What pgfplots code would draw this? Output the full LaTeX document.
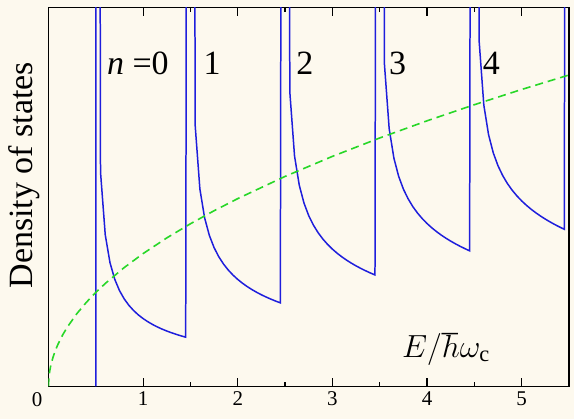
\RequirePackage{fix-cm}
\documentclass[border=0pt]{standalone}
\usepackage{pgfplots}
\pgfplotsset{compat=1.18}
\usepackage{pgfplotstable}
\usepackage{fontspec}
\setmainfont{Liberation Serif}
\usetikzlibrary{backgrounds}

\definecolor{paper}{RGB}{253,249,238}
\definecolor{dosblue}{RGB}{30,30,220}
\definecolor{dosgreen}{RGB}{40,215,40}

% Landau-quantised density of states (energy in units of hbar omega_c)
\pgfplotstableread{
E dos
0.5 0
0.5 60
0.55 4.4721
0.6 3.1623
0.65 2.5820
0.7 2.2361
0.75 2.0000
0.8 1.8257
0.85 1.6903
0.9 1.5811
0.95 1.4907
1.0 1.4142
1.05 1.3484
1.1 1.2910
1.15 1.2403
1.2 1.1952
1.25 1.1547
1.3 1.1180
1.35 1.0847
1.4 1.0541
1.45 1.0260
1.5 60
1.55 5.4480
1.6 4.1158
1.65 3.5145
1.7 3.1490
1.75 2.8944
1.8 2.7028
1.85 2.5510
1.9 2.4263
1.95 2.3212
2.0 2.2307
2.05 2.1516
2.1 2.0816
2.15 2.0188
2.2 1.9622
2.25 1.9106
2.3 1.8634
2.35 1.8199
2.4 1.7796
2.45 1.7421
2.5 60
2.55 6.1464
2.6 4.8059
2.65 4.1965
2.7 3.8232
2.75 3.5611
2.8 3.3622
2.85 3.2033
2.9 3.0718
2.95 2.9601
3.0 2.8632
3.05 2.7778
3.1 2.7018
3.15 2.6331
3.2 2.5708
3.25 2.5136
3.3 2.4610
3.35 2.4122
3.4 2.3668
3.45 2.3243
3.5 60
3.55 6.7190
3.6 5.3739
3.65 4.7599
3.7 4.3822
3.75 4.1158
3.8 3.9127
3.85 3.7497
3.9 3.6141
3.95 3.4985
4.0 3.3977
4.05 3.3085
4.1 3.2288
4.15 3.1565
4.2 3.0907
4.25 3.0300
4.3 2.9740
4.35 2.9218
4.4 2.8732
4.45 2.8275
4.5 60
4.55 7.2159
4.6 5.8678
4.65 5.2508
4.7 4.8702
4.75 4.6009
4.8 4.3949
4.85 4.2292
4.9 4.0908
4.95 3.9725
5.0 3.8691
5.05 3.7773
5.1 3.6951
5.15 3.6202
5.2 3.5520
5.25 3.4888
5.3 3.4304
5.35 3.3759
5.4 3.3250
5.45 3.2770
5.5 60
}\dostable

% Free-electron (zero-field) density of states
\pgfplotstableread{
E dos
0 0
0.005 0.196
0.01 0.277
0.02 0.392
0.03 0.480
0.05 0.619
0.075 0.759
0.1 0.876
0.15 1.073
0.2 1.239
0.3 1.517
0.4 1.752
0.5 1.959
0.6 2.146
0.8 2.478
1.0 2.770
1.25 3.097
1.5 3.392
1.75 3.664
2.0 3.917
2.5 4.380
3.0 4.798
3.5 5.182
4.0 5.540
4.5 5.876
5.0 6.194
5.5 6.496
}\freetable

\begin{document}
\begin{tikzpicture}
\begin{axis}[
  at={(0,0)}, anchor=south west,
  width=521pt, height=379pt, scale only axis,
  xmin=0, xmax=5.5, ymin=0, ymax=7.9,
  axis line style={line width=1.6pt},
  axis background/.style={fill=paper},
  xtick={1,2,3,4,5},
  minor xtick={0.5,1.5,2.5,3.5,4.5},
  ytick=\empty,
  xtick pos=both,
  tick align=inside,
  major tick length=8.5pt,
  minor tick length=4.5pt,
  every tick/.style={black, line width=1.2pt},
  /pgf/number format/assume math mode=true,
  xticklabel style={font=\fontsize{21}{21}\selectfont, inner sep=0pt, yshift=-5.5pt},
]
\addplot[dosblue, line width=1.5pt] table[x=E, y=dos] {\dostable};
\addplot[dosgreen, line width=1.6pt, dash pattern=on 8pt off 5pt] table[x=E, y=dos] {\freetable};

\node[font=\fontsize{34}{34}\selectfont] at (axis cs:0.945,6.74) {\textit{n} =0};
\node[font=\fontsize{34}{34}\selectfont] at (axis cs:1.73,6.74) {1};
\node[font=\fontsize{34}{34}\selectfont] at (axis cs:2.71,6.74) {2};
\node[font=\fontsize{34}{34}\selectfont] at (axis cs:3.69,6.74) {3};
\node[font=\fontsize{34}{34}\selectfont] at (axis cs:4.68,6.74) {4};
\node[anchor=base, font=\fontsize{32}{32}\selectfont] at (axis cs:4.2,0.61) {$E/\hbar\omega_{\mathrm{c}}$};

\coordinate (o) at (rel axis cs:0,0);
\coordinate (tr) at (rel axis cs:1,1);
\end{axis}

\node[anchor=north east, inner sep=0pt, font=\fontsize{21}{21}\selectfont] at ([xshift=-6pt, yshift=-5.5pt]o) {0};
\node[rotate=90, inner sep=0pt, font=\fontsize{34}{34}\selectfont] at ([xshift=-24.5pt, yshift=211.5pt]o) {Density of states};

\begin{scope}[on background layer]
  \fill[paper] ([xshift=-48.5pt, yshift=-32.5pt]o) rectangle ([xshift=5pt, yshift=7.7pt]tr);
\end{scope}
\end{tikzpicture}
\end{document}
